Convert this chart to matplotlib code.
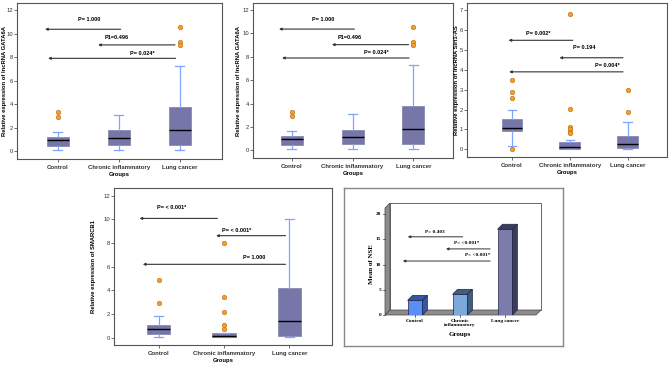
import numpy as np
import matplotlib
matplotlib.use('Agg')
import matplotlib.pyplot as plt
from matplotlib.patches import Polygon

plt.rcParams['font.family'] = ['Liberation Sans', 'DejaVu Sans']

groups = ['Control', 'Chronic inflammatory', 'Lung cancer']

# lncRNA GATA6A (panels 1 and 2)
gata_q1 = [0.48, 0.56, 0.56]
gata_med = [0.98, 1.13, 1.84]
gata_q3 = [1.19, 1.78, 3.76]
gata_lo = [0.14, 0.08, 0.08]
gata_hi = [1.64, 3.08, 7.26]
gata_fl = [[3.3, 2.95], [], [10.55, 9.25, 9.0]]

# lncRNA Sirt1-AS (panel 3)
sirt_q1 = [0.92, 0.03, 0.08]
sirt_med = [1.09, 0.12, 0.25]
sirt_q3 = [1.54, 0.34, 0.65]
sirt_lo = [0.17, 0.0, 0.0]
sirt_hi = [2.0, 0.49, 1.38]
sirt_fl = [[3.47, 2.89, 2.58, 0.03], [6.8, 2.03, 1.12, 1.0, 0.88, 0.8], [2.97, 1.88]]

# SMARCB1 (panel 4)
smarc_q1 = [0.28, 0.06, 0.17]
smarc_med = [0.76, 0.14, 1.41]
smarc_q3 = [1.07, 0.37, 4.18]
smarc_lo = [0.08, 0.03, 0.03]
smarc_hi = [1.84, 0.37, 10.06]
smarc_fl = [[4.89, 2.97], [8.0, 3.47, 2.18, 1.07, 0.76], []]

# NSE means (panel 5)
nse_mean = [2.9, 4.1, 17.0]

# p-value annotations: (label, y, x_from, x_to, text_x, text_y)
gata_p = [('P= 1.000', 10.37, 2.03, 0.79, 1.51, 11.2),
          ('P1=0.496', 9.04, 2.92, 1.66, 1.96, 9.66),
          ('P= 0.024*', 7.9, 2.93, 0.84, 2.39, 8.33)]
sirt_p = [('P= 0.002*', 5.49, 2.05, 0.94, 1.45, 5.82),
          ('P= 0.194', 4.61, 2.92, 1.82, 2.25, 5.15),
          ('P= 0.004*', 3.9, 2.92, 0.95, 2.65, 4.2)]
smarc_p = [('P= < 0.001*', 10.08, 1.9, 0.71, 1.2, 11.0),
           ('P= < 0.001*', 8.62, 2.94, 1.88, 2.2, 9.1),
           ('P= 1.000', 6.2, 2.94, 0.76, 2.46, 6.8)]
nse_p = [('P= 0.403', 15.5, 2.06, 0.84, 1.44, 16.5),
         ('P= <0.001*', 13.1, 2.67, 1.69, 2.14, 14.3),
         ('P= <0.001*', 10.7, 2.67, 0.73, 2.4, 11.9)]

box_face = '#7676a8'
whisk_col = '#7fa6ff'
frame_col = '#555555'


def box_panel(ax, q1, med, q3, lo, hi, fl, pvals, ylabel, ylim, yticks, xlim, ylab_px):
    stats = []
    for i in range(3):
        stats.append(dict(q1=q1[i], med=med[i], q3=q3[i], whislo=lo[i],
                          whishi=hi[i], fliers=fl[i], label=groups[i]))
    ax.bxp(stats, positions=[1, 2, 3], widths=0.36, patch_artist=True,
           boxprops=dict(facecolor=box_face, edgecolor='#8a8ab0', lw=0.6),
           medianprops=dict(color='black', lw=1.0),
           whiskerprops=dict(color=whisk_col, lw=0.9),
           capprops=dict(color=whisk_col, lw=0.9), capwidths=0.15,
           flierprops=dict(marker='o', markerfacecolor='#f0a030',
                           markeredgecolor='#c87818', markersize=3.2, mew=0.5))
    for lab, y, x0, x1, tx, ty in pvals:
        ax.annotate('', xy=(x1, y), xytext=(x0, y),
                    arrowprops=dict(arrowstyle='-|>', color='#333333', lw=0.8,
                                    mutation_scale=3.5, shrinkA=0, shrinkB=0))
        ax.text(tx, ty, lab, fontsize=4, fontweight='bold', ha='center', va='center')
    ax.set_xlim(*xlim)
    ax.set_ylim(*ylim)
    ax.set_yticks(yticks)
    ax.set_xticks([1, 2, 3])
    ax.set_xticklabels(groups, fontsize=4.3, fontweight='bold')
    ax.tick_params(axis='y', labelsize=4.2, length=2, width=0.5, pad=1, colors='#333333')
    ax.tick_params(axis='x', length=2, width=0.5, pad=2, colors='#333333')
    ax.set_ylabel(ylabel, fontsize=4.2, fontweight='bold')
    w_px = ax.get_position().width * 669
    ax.yaxis.set_label_coords(-ylab_px / w_px, 0.5)
    ax.set_xlabel('Groups', fontsize=4.2, fontweight='bold', labelpad=2)
    for s in ax.spines.values():
        s.set_color(frame_col)
        s.set_linewidth(0.8)


fig = plt.figure(figsize=(6.69, 3.65), dpi=100)

ax1 = fig.add_axes([0.0254, 0.5644, 0.3064, 0.4274])
box_panel(ax1, gata_q1, gata_med, gata_q3, gata_lo, gata_hi, gata_fl, gata_p,
          'Relative expression of lncRNA GATA6A', (-0.65, 12.6), range(0, 13, 2), (0.33, 3.69), 10)

ax2 = fig.add_axes([0.378, 0.5671, 0.299, 0.4247])
box_panel(ax2, gata_q1, gata_med, gata_q3, gata_lo, gata_hi, gata_fl, gata_p,
          'Relative expression of lncRNA GATA6A', (-0.65, 12.6), range(0, 13, 2), (0.36, 3.65), 12)

ax3 = fig.add_axes([0.698, 0.5699, 0.299, 0.4219])
box_panel(ax3, sirt_q1, sirt_med, sirt_q3, sirt_lo, sirt_hi, sirt_fl, sirt_p,
          'Relative expression of lncRNA Sirt1-AS', (-0.39, 7.37), range(0, 8), (0.22, 3.68), 8)

ax4 = fig.add_axes([0.1704, 0.0548, 0.3259, 0.4301])
box_panel(ax4, smarc_q1, smarc_med, smarc_q3, smarc_lo, smarc_hi, smarc_fl, smarc_p,
          'Relative expression of SMARCB1', (-0.62, 12.65), range(0, 13, 2), (0.32, 3.65), 18)

# Panel 5: framed 3D-look bar chart
outer = fig.add_axes([0.5142, 0.0521, 0.3274, 0.4329])
outer.set_xticks([])
outer.set_yticks([])
for s in outer.spines.values():
    s.set_color('#888888')
    s.set_linewidth(1.0)

ax5 = fig.add_axes([385 / 669, 1 - 315 / 365, 151 / 669, 112 / 365])
x0, x1 = 0.333, 3.69
ytop = 22.2
dx, dy = 0.111, 0.99
ax5.set_xlim(x0, x1)
ax5.set_ylim(0, ytop)
ax5.axis('off')

# walls and floor
ax5.add_patch(Polygon([(x0 + dx, dy), (x1 + dx, dy), (x1 + dx, ytop), (x0 + dx, ytop)],
                      closed=True, facecolor='white', edgecolor='#666666', lw=0.7, clip_on=False))
ax5.add_patch(Polygon([(x0, 0), (x0 + dx, dy), (x0 + dx, ytop), (x0, ytop - dy)],
                      closed=True, facecolor='#8c8c8c', edgecolor='#444444', lw=0.5, clip_on=False))
ax5.add_patch(Polygon([(x0, 0), (x1, 0), (x1 + dx, dy), (x0 + dx, dy)],
                      closed=True, facecolor='#8c8c8c', edgecolor='#444444', lw=0.5, clip_on=False))

front_cols = ['#5b8ef5', '#7ba9dc', '#7b7bac']
dark_cols = ['#3556a6', '#3f5f82', '#3c3c5e']
w = 0.33
bars = ax5.bar([1, 2, 3], nse_mean, width=w, color=front_cols, edgecolor='#222244', lw=0.5, zorder=3)
for i, b in enumerate(bars):
    bx = b.get_x()
    v = b.get_height()
    ax5.add_patch(Polygon([(bx, v), (bx + w, v), (bx + w + dx, v + dy), (bx + dx, v + dy)],
                          closed=True, facecolor=dark_cols[i], edgecolor='#222244', lw=0.5, zorder=3))
    ax5.add_patch(Polygon([(bx + w, 0), (bx + w + dx, dy), (bx + w + dx, v + dy), (bx + w, v)],
                          closed=True, facecolor=dark_cols[i], edgecolor='#222244', lw=0.5, zorder=3))

for lab, y, xa, xb, tx, ty in nse_p:
    ax5.annotate('', xy=(xb, y), xytext=(xa, y),
                 arrowprops=dict(arrowstyle='-|>', color='#333333', lw=0.7,
                                 mutation_scale=3.5, shrinkA=0, shrinkB=0))
    ax5.text(tx, ty, lab, fontsize=3.8, fontweight='bold', family='Liberation Serif',
             ha='center', va='center')

# ticks drawn on the front left edge
for t in range(0, 21, 5):
    ax5.plot([x0 - 0.05, x0], [t, t], color='#333333', lw=0.5, clip_on=False)
    ax5.text(x0 - 0.08, t, str(t), fontsize=3.8, fontweight='bold', family='Liberation Serif',
             ha='right', va='center')
cat_labels5 = ['Control', 'Chronic\ninflammatory', 'Lung cancer']
for i, lab in enumerate(cat_labels5):
    ax5.plot([i + 1, i + 1], [0, -0.35], color='#333333', lw=0.5, clip_on=False)
    ax5.text(i + 1, -0.8, lab, fontsize=3.8, fontweight='bold', family='Liberation Serif',
             ha='center', va='top', linespacing=0.9)
ax5.text(2, -3.4, 'Groups', fontsize=5, fontweight='bold', family='Liberation Serif',
         ha='center', va='top')
ax5.text(x0 - 0.29, ytop / 2 - 1, 'Mean of NSE', fontsize=5, fontweight='bold',
         family='Liberation Serif', rotation=90, ha='center', va='center')

fig.savefig('out.png', dpi=100)
